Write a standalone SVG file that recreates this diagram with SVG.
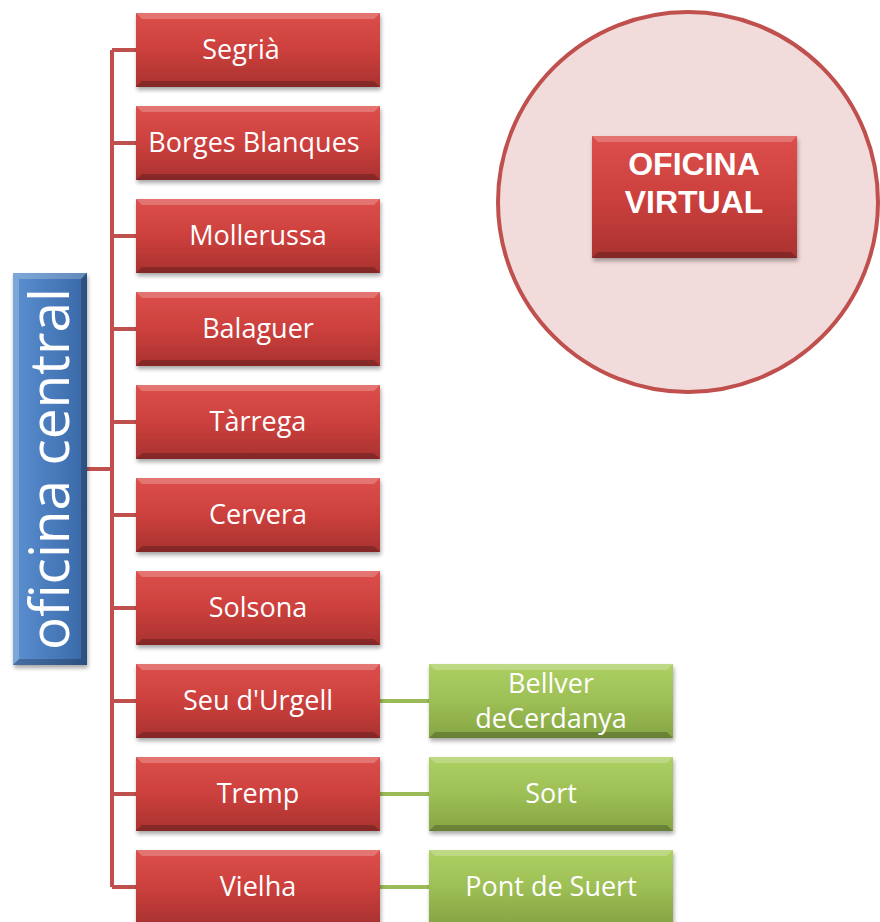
<svg xmlns="http://www.w3.org/2000/svg" width="880" height="922" viewBox="0 0 880 922">
<defs>
<linearGradient id="gRed" x1="0" y1="0" x2="0" y2="1">
<stop offset="0" stop-color="#dc4f4c"/><stop offset="0.5" stop-color="#cc403d"/><stop offset="1" stop-color="#a93230"/>
</linearGradient>
<linearGradient id="gGreen" x1="0" y1="0" x2="0" y2="1">
<stop offset="0" stop-color="#add063"/><stop offset="0.5" stop-color="#9dbf55"/><stop offset="1" stop-color="#86a544"/>
</linearGradient>
<linearGradient id="gBlue" x1="0" y1="0" x2="1" y2="0">
<stop offset="0" stop-color="#5b90d0"/><stop offset="0.5" stop-color="#4a7cbd"/><stop offset="1" stop-color="#3867a5"/>
</linearGradient>
<filter id="sh" x="-10%" y="-10%" width="120%" height="130%">
<feGaussianBlur in="SourceAlpha" stdDeviation="2"/>
<feOffset dx="1" dy="3" result="o"/>
<feComponentTransfer><feFuncA type="linear" slope="0.35"/></feComponentTransfer>
<feMerge><feMergeNode/><feMergeNode in="SourceGraphic"/></feMerge>
</filter>
</defs>
<style>
.red{fill:url(#gRed);filter:url(#sh)}
.green{fill:url(#gGreen);filter:url(#sh)}
.blue{fill:url(#gBlue);filter:url(#sh)}
.hl{fill:#ffffff;opacity:0.22}
.dk{fill:#000000;opacity:0.22}
.lbl{font-family:"Open Sans","Liberation Sans",sans-serif;font-size:27px;fill:#ffffff;text-anchor:middle}
.red-c{stroke:#c0504d;stroke-width:4;fill:none}
.green-c{stroke:#9bbb59;stroke-width:4;fill:none}
.ov{font-family:"Liberation Sans",Arial,sans-serif;font-weight:bold;font-size:32px;fill:#ffffff;text-anchor:middle}
</style>
<circle cx="688" cy="202" r="190" fill="#f2dcdb" stroke="#c0504d" stroke-width="4"/>
<g id="connectors">
<path class="red-c" d="M112 50 V887 M87 469 H112 M112 50 H136 M112 143 H136 M112 236 H136 M112 329 H136 M112 422 H136 M112 515 H136 M112 608 H136 M112 701 H136 M112 794 H136 M112 887 H136"/>
<path class="green-c" d="M380 701 H429 M380 794 H429 M380 887 H429"/>
</g>
<g id="oficina-central">
<rect class="blue" x="13" y="273" width="74" height="392"/>
<polygon class="hl" points="13,273 87,273 81,279 19,279"/>
<polygon class="hl" points="13,273 19,279 19,659 13,665"/>
<polygon class="dk" points="13,665 87,665 81,659 19,659"/>
<polygon class="dk" points="87,273 87,665 81,659 81,279"/>
<text transform="translate(69 469) rotate(-90)" style="font-family:'Open Sans','Liberation Sans',sans-serif;font-size:55px;fill:#fff;text-anchor:middle">oficina central</text>
</g>
<g id="n1"><rect class="red" x="136" y="13" width="244" height="74"/><polygon class="hl" points="136,13 380,13 374,19 142,19"/><polygon class="dk" points="136,87 380,87 374,81 142,81"/><text class="lbl" x="241" y="59">Segrià</text></g>
<g id="n2"><rect class="red" x="136" y="106" width="244" height="74"/><polygon class="hl" points="136,106 380,106 374,112 142,112"/><polygon class="dk" points="136,180 380,180 374,174 142,174"/><text class="lbl" x="254" y="152">Borges Blanques</text></g>
<g id="n3"><rect class="red" x="136" y="199" width="244" height="74"/><polygon class="hl" points="136,199 380,199 374,205 142,205"/><polygon class="dk" points="136,273 380,273 374,267 142,267"/><text class="lbl" x="258" y="245">Mollerussa</text></g>
<g id="n4"><rect class="red" x="136" y="292" width="244" height="74"/><polygon class="hl" points="136,292 380,292 374,298 142,298"/><polygon class="dk" points="136,366 380,366 374,360 142,360"/><text class="lbl" x="258" y="338">Balaguer</text></g>
<g id="n5"><rect class="red" x="136" y="385" width="244" height="74"/><polygon class="hl" points="136,385 380,385 374,391 142,391"/><polygon class="dk" points="136,459 380,459 374,453 142,453"/><text class="lbl" x="258" y="431">Tàrrega</text></g>
<g id="n6"><rect class="red" x="136" y="478" width="244" height="74"/><polygon class="hl" points="136,478 380,478 374,484 142,484"/><polygon class="dk" points="136,552 380,552 374,546 142,546"/><text class="lbl" x="258" y="524">Cervera</text></g>
<g id="n7"><rect class="red" x="136" y="571" width="244" height="74"/><polygon class="hl" points="136,571 380,571 374,577 142,577"/><polygon class="dk" points="136,645 380,645 374,639 142,639"/><text class="lbl" x="258" y="617">Solsona</text></g>
<g id="n8"><rect class="red" x="136" y="664" width="244" height="74"/><polygon class="hl" points="136,664 380,664 374,670 142,670"/><polygon class="dk" points="136,738 380,738 374,732 142,732"/><text class="lbl" x="258" y="710">Seu d'Urgell</text></g>
<g id="n9"><rect class="red" x="136" y="757" width="244" height="74"/><polygon class="hl" points="136,757 380,757 374,763 142,763"/><polygon class="dk" points="136,831 380,831 374,825 142,825"/><text class="lbl" x="258" y="803">Tremp</text></g>
<g id="n10"><rect class="red" x="136" y="850" width="244" height="74"/><polygon class="hl" points="136,850 380,850 374,856 142,856"/><text class="lbl" x="258" y="896">Vielha</text></g>
<g id="g1"><rect class="green" x="429" y="664" width="244" height="74"/><polygon class="hl" points="429,664 673,664 667,670 435,670"/><polygon class="dk" points="429,738 673,738 667,732 435,732"/><text class="lbl" x="551" y="693">Bellver</text><text class="lbl" x="551" y="728">deCerdanya</text></g>
<g id="g2"><rect class="green" x="429" y="757" width="244" height="74"/><polygon class="hl" points="429,757 673,757 667,763 435,763"/><polygon class="dk" points="429,831 673,831 667,825 435,825"/><text class="lbl" x="551" y="803">Sort</text></g>
<g id="g3"><rect class="green" x="429" y="850" width="244" height="74"/><polygon class="hl" points="429,850 673,850 667,856 435,856"/><text class="lbl" x="551" y="896">Pont de Suert</text></g>
<g id="oficina-virtual">
<rect class="red" x="592" y="136" width="205" height="122"/>
<polygon class="hl" points="592,136 797,136 791,142 598,142"/>
<polygon class="dk" points="592,258 797,258 791,252 598,252"/>
<text class="ov" x="694" y="175">OFICINA</text>
<text class="ov" x="694" y="213">VIRTUAL</text>
</g>
</svg>
